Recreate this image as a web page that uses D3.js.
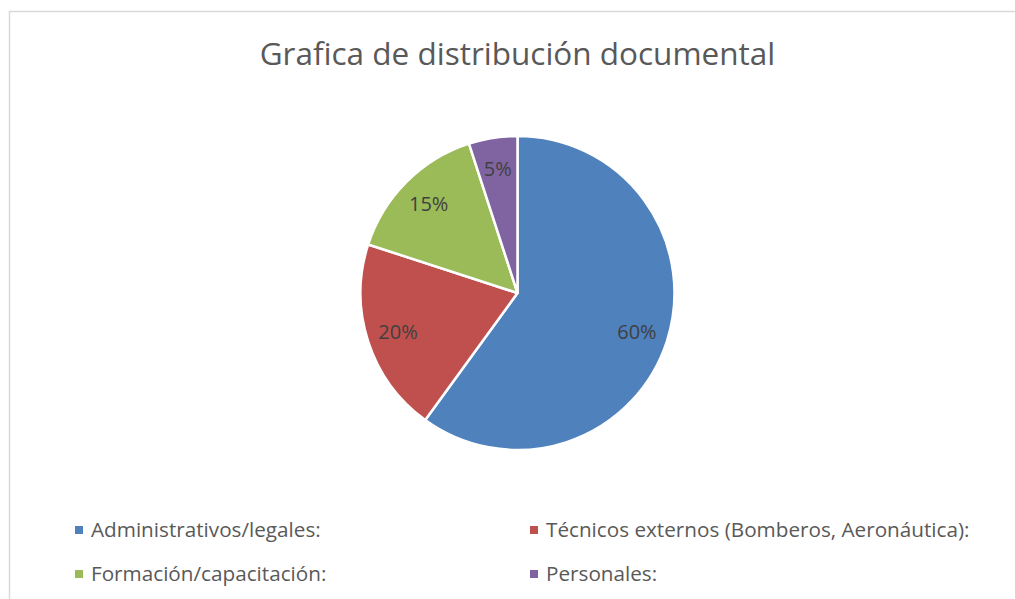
<!DOCTYPE html>
<html>
<head>
<meta charset="utf-8">
<script src="https://cdn.jsdelivr.net/npm/d3@7"></script>
<style>
  body { margin: 0; background: #fff; }
  svg text { font-family: "Open Sans", "Noto Sans", sans-serif; }
</style>
</head>
<body>
<div id="chart"></div>
<script>
// data
const categories = ["Administrativos/legales:", "Técnicos externos (Bomberos, Aeronáutica):", "Formación/capacitación:", "Personales:"];
const values = [60, 20, 15, 5];
const pctLabels = ["60%", "20%", "15%", "5%"];
const colors = ["#4F81BD", "#C0504D", "#9BBB59", "#8064A2"];

const width = 1015, height = 599;
const cx = 517.5, cy = 293, radius = 157;

const svg = d3.select("#chart").append("svg")
  .attr("width", width)
  .attr("height", height);

// chart area border
svg.append("rect")
  .attr("x", 9.5).attr("y", 11.5)
  .attr("width", width + 20).attr("height", height + 20)
  .attr("fill", "none")
  .attr("stroke", "#d9d9d9")
  .attr("stroke-width", 1.5);

// title
svg.append("text")
  .attr("x", cx)
  .attr("y", 65)
  .attr("text-anchor", "middle")
  .attr("fill", "#595959")
  .style("font-size", "31.5px")
  .text("Grafica de distribución documental");

const data = categories.map((c, i) => ({name: c, value: values[i], label: pctLabels[i], color: colors[i]}));

const pie = d3.pie().sort(null).value(d => d.value);
const arc = d3.arc().innerRadius(0).outerRadius(radius);
const labelArc = d3.arc().innerRadius(radius * 0.8).outerRadius(radius * 0.8);

const g = svg.append("g").attr("transform", `translate(${cx},${cy})`);

const slices = g.selectAll("g.slice")
  .data(pie(data))
  .enter()
  .append("g")
  .attr("class", "slice");

slices.append("path")
  .attr("d", arc)
  .attr("fill", d => d.data.color)
  .attr("stroke", "#fff")
  .attr("stroke-width", 2.5)
  .attr("stroke-linejoin", "round");

slices.append("text")
  .attr("transform", d => `translate(${labelArc.centroid(d)})`)
  .attr("text-anchor", "middle")
  .attr("dy", "0.35em")
  .attr("fill", "#404040")
  .style("font-size", "20px")
  .text(d => d.data.label);

// legend, two columns
const legendX = d3.scaleOrdinal().domain([0, 1]).range([75, 530]);
const legendY = d3.scaleOrdinal().domain([0, 1]).range([530, 574]);

const legend = svg.selectAll("g.legend")
  .data(data)
  .enter()
  .append("g")
  .attr("class", "legend")
  .attr("transform", (d, i) => `translate(${legendX(i % 2)},${legendY(Math.floor(i / 2))})`);

legend.append("rect")
  .attr("x", 0).attr("y", -4)
  .attr("width", 8).attr("height", 8)
  .attr("fill", d => d.color);

legend.append("text")
  .attr("x", 16)
  .attr("y", 0)
  .attr("dy", "0.35em")
  .attr("fill", "#595959")
  .style("font-size", "20.7px")
  .text(d => d.name);
</script>
</body>
</html>
